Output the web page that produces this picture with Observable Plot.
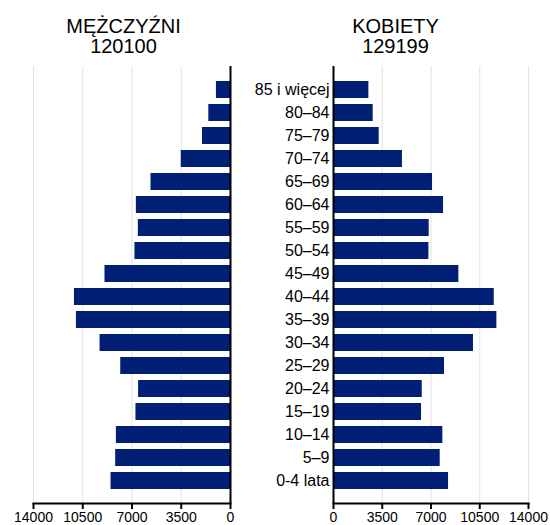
<!DOCTYPE html>
<html>
<head>
<meta charset="utf-8">
<script src="https://cdn.jsdelivr.net/npm/d3@7"></script>
<script src="https://cdn.jsdelivr.net/npm/@observablehq/plot@0.6"></script>
<style>
  html, body { margin: 0; padding: 0; background: #fff; }
  #wrap { position: relative; width: 550px; height: 525px; font-family: "Liberation Sans", Arial, Helvetica, sans-serif; }
  .title { position: absolute; top: 16px; width: 200px; text-align: center; font-size: 20px; line-height: 20px; color: #000; }
  #row { position: absolute; top: 60px; left: 0; display: flex; }
</style>
</head>
<body>
<div id="wrap">
  <div class="title" id="tm" style="left:23.5px"></div>
  <div class="title" id="tk" style="left:295.5px"></div>
  <div id="row"></div>
</div>
<script>
const ages = ["85 i więcej","80–84","75–79","70–74","65–69","60–64","55–59","50–54","45–49","40–44","35–39","30–34","25–29","20–24","15–19","10–14","5–9","0-4 lata"];
const men =   [1000,1540,1990,3500,5650,6690,6550,6790,8920,11090,10950,9270,7800,6530,6720,8110,8160,8490];
const women = [2540,2850,3280,4950,7110,7900,6870,6850,9000,11540,11730,10050,7970,6370,6320,7850,7660,8260];
const xTicks = [0,3500,7000,10500,14000];
const gridTicks = [3500,7000,10500,14000];
const titleMen = "MĘŻCZYŹNI", totalMen = "120100";
const titleWomen = "KOBIETY", totalWomen = "129199";

document.getElementById("tm").innerHTML = titleMen + "<br>" + totalMen;
document.getElementById("tk").innerHTML = titleWomen + "<br>" + totalWomen;

const menData = ages.map((a, i) => ({age: a, v: men[i]}));
const womenData = ages.map((a, i) => ({age: a, v: women[i]}));
const font = '"Liberation Sans", Arial, Helvetica, sans-serif';
const barFill = "#001f75";

function panel(data, left) {
  return Plot.plot({
    width: left ? 232 : 318,
    height: 465,
    marginTop: 6,
    marginBottom: 22,
    marginLeft: left ? 33 : 101,
    marginRight: left ? 2 : 22,
    style: {fontFamily: font, fontSize: "14px", color: "#000", background: "transparent", overflow: "visible"},
    x: {domain: [0, 14000], reverse: left, label: null},
    y: {domain: ages, range: [20, 430], paddingInner: 0.25, paddingOuter: 0, label: null, axis: left ? null : undefined},
    marks: [
      Plot.ruleX(gridTicks, {stroke: "#e2e2e2", strokeWidth: 1}),
      Plot.barX(data, {x: "v", y: "age", fill: barFill}),
      Plot.ruleX([0], {stroke: "#000", strokeWidth: 2}),
      Plot.frame({anchor: "bottom", stroke: "#000", strokeWidth: 2}),
      Plot.axisX({ticks: xTicks, tickSize: 6, tickPadding: 3, strokeWidth: 2, tickFormat: d => String(d), label: null}),
      left ? null : Plot.axisY({tickSize: 0, tickPadding: 4, fontSize: 16, label: null})
    ]
  });
}

const row = document.getElementById("row");
row.appendChild(panel(menData, true));
row.appendChild(panel(womenData, false));
</script>
</body>
</html>
